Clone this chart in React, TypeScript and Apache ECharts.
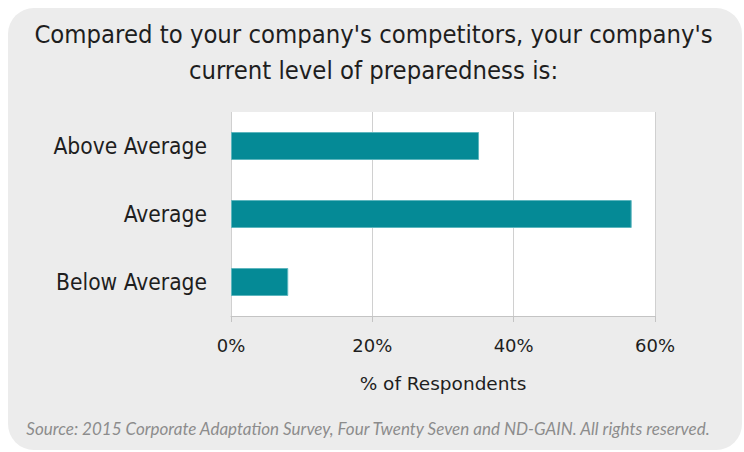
import React, { useEffect, useRef } from "react";
import * as echarts from "echarts";

const categories = ["Below Average", "Average", "Above Average"];
const values = [8.1, 56.7, 35.1];
const xTicks = [0, 20, 40, 60];

const titleText = "Compared to your company's competitors, your company's\ncurrent level of preparedness is:";
const axisName = "% of Respondents";
const sourceText = "Source: 2015 Corporate Adaptation Survey, Four Twenty Seven and ND-GAIN. All rights reserved.";

export default function App() {
  const ref = useRef<HTMLDivElement>(null);
  useEffect(() => {
    if (!ref.current) return;
    const chart = echarts.init(ref.current, null, { renderer: "svg" });
    chart.setOption({
      animation: false,
      backgroundColor: "#ffffff",
      graphic: [
        {
          type: "rect",
          z: -10,
          silent: true,
          shape: { x: 8, y: 8, width: 734, height: 442, r: 26 },
          style: { fill: "#ececec" },
        },
        {
          type: "text",
          x: 373.5,
          y: 16,
          style: {
            text: titleText,
            font: "25.4px 'DejaVu Sans Condensed'",
            fill: "#1e1e1e",
            textAlign: "center",
            textVerticalAlign: "top",
            lineHeight: 36,
          },
        },
        {
          type: "text",
          x: 368,
          y: 428,
          style: {
            text: sourceText,
            font: "italic 17px Lato",
            fill: "#8c8c8c",
            textAlign: "center",
            textVerticalAlign: "middle",
          },
        },
      ],
      grid: {
        left: 231,
        right: 89,
        top: 112,
        bottom: 136,
        show: true,
        backgroundColor: "#ffffff",
        borderWidth: 0,
      },
      xAxis: {
        type: "value",
        min: 0,
        max: 60,
        interval: 20,
        name: axisName,
        nameLocation: "middle",
        nameGap: 58,
        nameTextStyle: { fontFamily: "DejaVu Sans", fontSize: 18.5, color: "#1e1e1e" },
        axisLine: { show: true, lineStyle: { color: "#c4c4c4", width: 1 } },
        axisTick: { show: true, length: 6, lineStyle: { color: "#c4c4c4" } },
        splitLine: { show: true, lineStyle: { color: "#d0d0d0", width: 1 } },
        axisLabel: {
          fontFamily: "DejaVu Sans",
          fontSize: 18,
          color: "#1e1e1e",
          margin: 20,
          formatter: (v: number) => (xTicks.includes(v) ? v + "%" : ""),
        },
      },
      yAxis: {
        type: "category",
        data: categories,
        axisLine: { show: false },
        axisTick: { show: false },
        splitLine: { show: false },
        axisLabel: {
          fontFamily: "'DejaVu Sans Condensed'",
          fontSize: 22.6,
          color: "#1e1e1e",
          margin: 24,
          padding: [0, 0, 6, 0],
        },
      },
      series: [
        {
          type: "bar",
          data: values,
          barWidth: 28,
          itemStyle: { color: "#058a96", borderColor: "#5db6be", borderWidth: 1 },
        },
      ],
    });
    return () => chart.dispose();
  }, []);
  return (
    <div
      ref={ref}
      style={{ position: "fixed", left: 0, top: 0, width: 744, height: 452 }}
    />
  );
}
